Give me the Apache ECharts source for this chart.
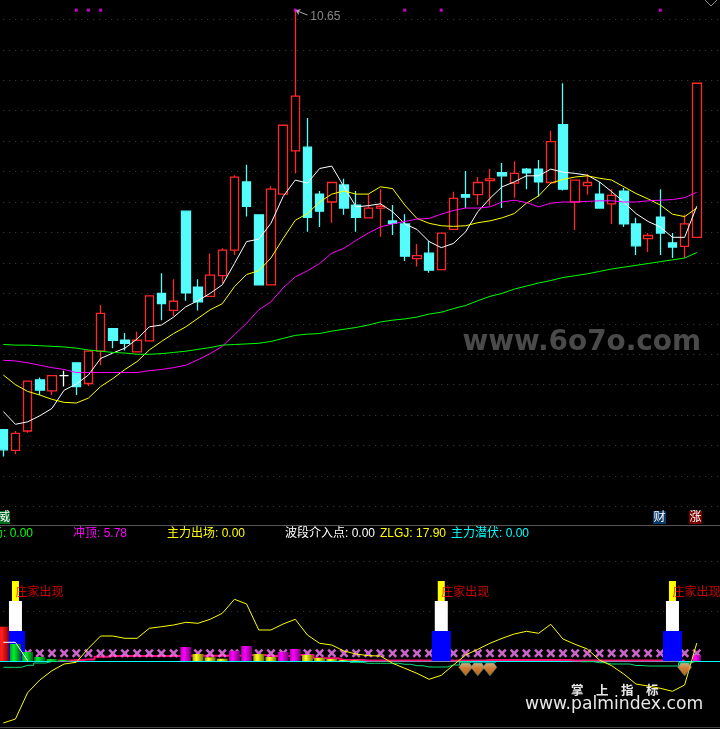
<!DOCTYPE html>
<html><head><meta charset="utf-8">
<style>html,body{margin:0;padding:0;background:#000}#c{width:720px;height:729px}</style>
<script src="https://cdn.jsdelivr.net/npm/echarts@6/dist/echarts.min.js"></script>
</head><body><div id="c"></div>
<script>
// ---------- price panel ----------
const opens =[3.76,3.42,3.74,4.58,4.40,4.65,4.86,4.52,5.05,5.42,5.23,5.04,5.22,6.00,5.72,7.35,6.10,5.95,6.29,6.71,7.83,7.29,6.14,7.63,8.34,8.40,7.63,7.50,7.78,7.45,7.24,7.40,7.19,7.14,6.57,6.66,6.39,7.05,7.62,7.62,7.85,7.98,7.81,8.04,8.04,7.82,8.77,7.50,7.77,7.63,7.47,7.68,7.14,6.90,7.25,6.83,6.77,6.92];
const closes=[3.43,3.70,4.56,4.41,4.65,4.65,4.47,5.05,5.67,5.23,5.18,5.23,5.96,5.83,5.87,6.01,5.86,6.30,6.71,7.91,7.43,6.14,7.71,8.76,9.24,7.25,7.35,7.82,7.40,7.25,7.40,7.43,7.15,6.61,6.62,6.38,6.99,7.56,7.58,7.82,7.88,7.93,7.97,7.98,7.83,8.49,7.71,7.86,7.82,7.40,7.61,7.14,6.78,6.95,6.99,6.76,7.14,9.45];
const lows  =[3.32,3.36,3.71,4.33,4.33,4.47,4.33,4.48,4.82,5.10,5.06,5.04,5.22,5.56,5.63,5.88,5.72,5.95,6.17,6.63,7.26,6.14,6.14,7.63,7.97,7.01,7.09,7.16,7.29,7.01,7.24,6.93,6.96,6.53,6.44,6.34,6.39,7.05,7.40,7.45,7.44,7.40,7.57,7.71,7.59,7.82,7.69,7.04,7.62,7.39,7.14,7.09,6.63,6.68,6.63,6.58,6.58,6.92];
const highs =[3.76,3.74,4.56,4.62,4.65,4.73,4.86,5.05,5.81,5.42,5.35,5.37,5.97,6.33,6.23,7.35,6.23,6.65,6.74,7.94,8.11,7.29,7.76,8.76,10.65,8.88,7.68,7.82,7.88,7.68,7.63,7.71,7.45,7.30,6.81,6.86,6.99,7.67,8.01,7.91,8.04,8.14,8.17,8.06,8.19,8.67,9.45,7.86,7.96,7.83,7.71,7.73,7.24,6.99,7.71,6.99,7.29,9.45];
const maWhite=[4.06,3.85,3.89,3.99,4.11,4.41,4.51,4.66,4.93,5.02,5.10,5.25,5.45,5.48,5.61,5.78,5.88,6.00,6.14,6.49,6.85,6.89,7.15,7.59,7.86,7.81,8.05,8.09,7.75,7.42,7.44,7.47,7.34,7.14,7.05,6.85,6.75,6.82,7.01,7.34,7.56,7.75,7.83,7.93,7.93,8.04,7.99,7.97,7.94,7.83,7.67,7.50,7.31,7.18,7.09,6.92,6.92,7.43];
const maYellow=[4.66,4.50,4.39,4.33,4.26,4.21,4.20,4.28,4.47,4.60,4.75,4.88,5.07,5.21,5.34,5.45,5.59,5.73,5.83,6.11,6.31,6.37,6.58,6.90,7.20,7.31,7.50,7.63,7.68,7.63,7.63,7.75,7.72,7.45,7.23,7.15,7.11,7.10,7.11,7.16,7.19,7.24,7.31,7.48,7.60,7.81,7.87,7.91,7.93,7.89,7.86,7.75,7.64,7.55,7.45,7.30,7.26,7.40];
const maMagenta=[4.90,4.89,4.86,4.82,4.78,4.75,4.70,4.70,4.70,4.70,4.70,4.70,4.73,4.75,4.78,4.82,4.91,5.01,5.13,5.32,5.51,5.73,5.86,6.09,6.27,6.37,6.49,6.66,6.74,6.87,6.99,7.09,7.14,7.18,7.22,7.23,7.30,7.36,7.40,7.40,7.42,7.50,7.53,7.49,7.42,7.48,7.50,7.50,7.51,7.52,7.52,7.50,7.50,7.52,7.53,7.54,7.57,7.66];
const maGreen=[5.16,5.15,5.15,5.14,5.13,5.12,5.10,5.07,5.05,5.03,5.02,5.00,5.00,5.01,5.03,5.05,5.08,5.11,5.15,5.16,5.17,5.18,5.21,5.26,5.31,5.33,5.34,5.38,5.41,5.44,5.48,5.53,5.56,5.58,5.61,5.66,5.69,5.75,5.80,5.88,5.95,6.00,6.07,6.12,6.17,6.21,6.26,6.29,6.32,6.36,6.40,6.43,6.46,6.49,6.52,6.55,6.58,6.67];
const dojiIndex=[5];
const topDotIndex=[6,7,8,24,33,36,54];
const topDotPrice=10.65;
const peakIndex=24;

// ---------- indicator panel ----------
const zlgj=[-62,-58,-31.7,-19,-9.7,-3,-1.3,12.7,25,25,22.7,22.7,32.7,34.3,36,38.7,37.7,41.7,47.7,61.7,57,31,31,37,41.7,26,17.7,16,10,7,5.3,5,-2.3,-7.3,-12.3,-18.3,-14.3,-4,6,11.7,17.7,22.7,27,29.7,27.7,36.7,22,16.7,12,1,-4.7,-13,-23,-25,-27.3,-30.3,-24,17.9];
const pinkLine=[null,null,null,null,null,0.5,1,1.5,4.3,5,5,5,5,5,5,5.3,5.3,5.3,5.3,5.3,6,6,5,5,6,6,2.7,2.7,1,1,0.6,0.6,0.6,0.6,0.6,0.6,0.6,0.6,0.6,0.6,1,1,1,1,1,1,1,0.6,0.6,0.6,0.6,0.6,0.6,0.6,0.6,0.6,0.6];
const greenLine=[-6.3,-6.3,-4.3,-2,-0.5,null,null,null,null,null,null,null,null,null,null,null,null,null,null,null,null,null,null,null,null,null,null,null,null,-1.3,-2.3,-2.3,-2.3,-3.3,-4.7,-6,-6,-4,-1,null,null,null,null,null,null,null,null,null,-0.7,-1.7,-3,-3,-4.5,-5,-5,-5,-2,0];
const whiteLine=[18.7,18.7,0.3];
const redBars=[[0,34.3]];
const greenBars=[[1,17],[2,9],[3,4],[4,2],[5,1]];
const magentaBars=[[15,14],[19,10],[20,15],[23,9],[24,12]];
const yellowBars=[[16,7],[17,3.7],[18,2.3],[21,7],[22,4],[25,6],[26,3],[27,2],[28,1],[29,0.7]];
const lastBar=[[57,5.78]];
const towerIndex=[1,36,55];
const towerBlue=30, towerWhite=60, towerYellow=80;
const cyanDash=[[38,-1.5],[39,-1.5],[40,-1.5],[56,-1.5]];
const gemIndex=[38,39,40,56];
const gemLevel=-8.5, crossLevel=7.7, labelLevel=69.3;
const crossFrom=2, crossTo=57;
const headers=[
 {t:'场: 0.00',x:33,c:'#00FF00',a:'right'},
 {t:'冲顶: 5.78',x:73,c:'#FF00FF'},
 {t:'主力出场: 0.00',x:167,c:'#FFFF00'},
 {t:'波段介入点: 0.00',x:285,c:'#FFFFFF'},
 {t:'ZLGJ: 17.90',x:380,c:'#FFFF00'},
 {t:'主力潜伏: 0.00',x:451,c:'#00FFFF'}
];
const categories=[];for(let i=0;i<60;i++)categories.push(String(i+1));

const candles=opens.map((o,i)=>{
  const v=[o,closes[i],lows[i],highs[i]];
  return dojiIndex.includes(i)?{value:v,itemStyle:{color:'#fff',color0:'#fff',borderColor:'#fff',borderColor0:'#fff'}}:{value:v};
});
const hGrad=(a,b,c)=>({type:'linear',x:0,y:0,x2:1,y2:0,colorStops:[{offset:0,color:a},{offset:.35,color:b},{offset:1,color:c}]});
const XMARK='path://M2 0L5 3L8 0L10 2L7 5L10 8L8 10L5 7L2 10L0 8L3 5L0 2Z';
const GEM='path://M3 0H11L14 4L7 12L0 4Z';
const crossData=[];for(let i=crossFrom;i<=crossTo;i++)crossData.push([i,crossLevel]);

const line=(name,data,color,w,xi,yi,extra)=>Object.assign({name,type:'line',data,xAxisIndex:xi,yAxisIndex:yi,showSymbol:false,symbol:'none',smooth:false,animation:false,lineStyle:{color,width:w},itemStyle:{color},silent:true,z:4},extra||{});
const bar=(name,data,width,color,xi)=>({name,type:'bar',data,xAxisIndex:xi,yAxisIndex:1,barWidth:width,barGap:'-100%',itemStyle:{color},animation:false,silent:true,z:3});

const hiddenX=(grid)=>({type:'category',gridIndex:grid,data:categories,show:false,boundaryGap:true});
const xAxes=[
 {type:'category',gridIndex:0,data:categories,boundaryGap:true,axisLine:{show:false},axisTick:{show:false},axisLabel:{show:false}},
 {type:'category',gridIndex:1,data:categories,boundaryGap:true,axisLine:{show:true,onZero:true,lineStyle:{color:'#00FFFF',width:1}},axisTick:{show:false},axisLabel:{show:false}},
 hiddenX(1),hiddenX(1),hiddenX(1),hiddenX(1),hiddenX(1)
];

const txt=(t,x,y,fill,font,extra)=>({type:'text',silent:true,z:100,style:Object.assign({x,y,text:t,fill,font,textVerticalAlign:'middle'},extra||{})});
const FONT='12px "Liberation Sans","Noto Sans CJK SC",sans-serif';
const graphic=[
 {type:'rect',silent:true,z:1,shape:{x:0,y:525,width:720,height:1},style:{fill:'#555'}},
 {type:'rect',silent:true,z:1,shape:{x:0,y:727,width:720,height:1},style:{fill:'#444'}},
 {type:'polyline',silent:true,z:1,shape:{points:[[705,0],[711,6],[717,0]]},style:{stroke:'#888',fill:'none',lineWidth:1}},
 {type:'rect',silent:true,z:90,shape:{x:0,y:511,width:10,height:13},style:{fill:'#006A20'}},
 {type:'rect',silent:true,z:90,shape:{x:653,y:511,width:13,height:13},style:{fill:'#0A3A6A'}},
 {type:'rect',silent:true,z:90,shape:{x:689,y:511,width:13,height:13},style:{fill:'#7A0000'}},
 txt('威',-2,518,'#fff',FONT),
 txt('财',653.5,518,'#fff',FONT),
 txt('涨',689.5,518,'#fff',FONT),
 txt('www.6o7o.com',462.5,342.5,'#4a4a4a','bold 27.9px "DejaVu Sans",sans-serif'),
 txt('掌\u3000上\u3000指\u3000标',571,690,'#e8e8e8','bold 12.5px "Noto Sans CJK SC",sans-serif',{}),
 txt('www.palmindex.com',525,705,'#e8e8e8','17.2px "DejaVu Sans",sans-serif')
].concat(headers.map(h=>txt(h.t,h.x,533.5,h.c,FONT,{textAlign:h.a||'left'})));

const series=[
 {name:'K',type:'candlestick',xAxisIndex:0,yAxisIndex:0,data:candles,barWidth:9,animation:false,silent:true,
  itemStyle:{color:'#000',color0:'#54FCFC',borderColor:'#FF2828',borderColor0:'#54FCFC',borderWidth:1.3}},
 line('MA5',maWhite,'#FFFFFF',1,0,0),
 line('MA10',maYellow,'#FFFF00',1,0,0),
 line('MA20',maMagenta,'#FF00FF',1,0,0),
 line('MA60',maGreen,'#00FF00',1,0,0),
 {name:'signal',type:'scatter',xAxisIndex:0,yAxisIndex:0,symbol:'rect',symbolSize:3,itemStyle:{color:'#FF00FF'},animation:false,silent:true,z:5,
  data:topDotIndex.map(i=>[i,topDotPrice])},
 {name:'peak',type:'scatter',xAxisIndex:0,yAxisIndex:0,symbolSize:0,animation:false,silent:true,z:5,
  data:[[peakIndex,highs[peakIndex]]],
  label:{show:true,position:'right',offset:[10,6.5],color:'#A8A8A8',fontSize:12,fontFamily:'"Liberation Sans",sans-serif',formatter:p=>p.value[1].toFixed(2)},
  markLine:{silent:true,animation:false,symbol:['arrow','none'],symbolSize:5,lineStyle:{color:'#A8A8A8',width:1,type:'solid'},label:{show:false},
   data:[[{coord:[peakIndex,highs[peakIndex]]},{coord:[peakIndex+1,highs[peakIndex]-0.08]}]]}},
 // indicator panel
 {name:'cross',type:'scatter',xAxisIndex:1,yAxisIndex:1,symbol:XMARK,symbolSize:9,itemStyle:{color:'#FF80FF'},animation:false,silent:true,z:2,data:crossData},
 line('pink',pinkLine,'#FF1070',2,1,1,{step:'middle',z:2}),
 bar('towerYellow',towerIndex.map(i=>[i,towerYellow]),7,'#FFFF00',2),
 bar('towerWhite',towerIndex.map(i=>[i,towerWhite]),13,'#FFFFFF',3),
 bar('towerBlue',towerIndex.map(i=>[i,towerBlue]),19,'#0000FF',4),
 bar('red',redBars,11,hGrad('#FF0000','#FF2020','#900000'),1),
 bar('green',greenBars,11,hGrad('#00A020','#00F030','#006010'),1),
 bar('magenta',magentaBars,11,hGrad('#B000B0','#FF00FF','#700070'),1),
 bar('yellow',yellowBars,11,hGrad('#A0A000','#FFFF20','#707000'),1),
 bar('chongding',lastBar,8,hGrad('#FF00FF','#FF00FF','#900090'),5),
 bar('cyanDash',cyanDash,12,'#00FFFF',6),
 line('greenSteps',greenLine,'#00E070',1,1,1,{step:'middle'}),
 line('whiteSteps',whiteLine,'#FFFFFF',1,1,1),
 line('ZLGJ',zlgj,'#FFFF00',1,1,1),
 {name:'gem',type:'scatter',xAxisIndex:1,yAxisIndex:1,symbol:GEM,symbolSize:[14,13],animation:false,silent:true,z:5,
  itemStyle:{color:{type:'linear',x:0,y:0,x2:0,y2:1,colorStops:[{offset:0,color:'#FFDCA8'},{offset:.4,color:'#FF9E48'},{offset:1,color:'#E87818'}]},borderColor:'#108888',borderWidth:0.6},
  data:gemIndex.map(i=>[i,gemLevel])},
 {name:'zhuang',type:'scatter',xAxisIndex:1,yAxisIndex:1,symbolSize:0,animation:false,silent:true,z:6,
  data:towerIndex.map(i=>[i,labelLevel]),
  label:{show:true,position:'right',distance:0,offset:[0,0],formatter:'庄家出现',color:'#FF0000',fontSize:12,fontFamily:'"Noto Sans CJK SC",sans-serif'}}
];

const chart=echarts.init(document.getElementById('c'),null,{renderer:'canvas',width:720,height:729});
chart.setOption({
  backgroundColor:'#000',animation:false,
  tooltip:{show:false},legend:{show:false},
  grid:[
    {left:-2.8,width:730,top:-11.15,height:517.65,outerBoundsMode:'none'},
    {left:-2.8,width:730,top:561,height:200,outerBoundsMode:'none'}
  ],
  xAxis:xAxes,
  yAxis:[
    {type:'value',gridIndex:0,min:2.5,max:11,interval:0.5,scale:true,axisLine:{show:false},axisTick:{show:false},axisLabel:{show:false},
     splitLine:{show:true,lineStyle:{color:'#3e3e3e',type:[1,5],width:1}}},
    {type:'value',gridIndex:1,min:-100,max:100,interval:50,axisLine:{show:false},axisTick:{show:false},axisLabel:{show:false},
     splitLine:{show:true,lineStyle:{color:['transparent','transparent','#3e3e3e','#3e3e3e','#3e3e3e'],type:[1,5],width:1}}}
  ],
  graphic:graphic,
  series:series
});
</script></body></html>
